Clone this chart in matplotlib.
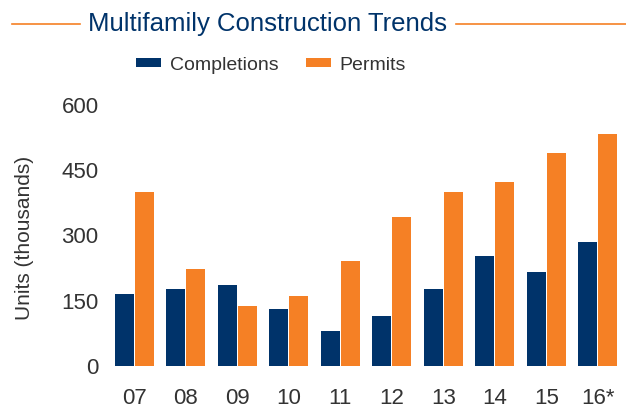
import matplotlib
matplotlib.use("Agg")
import matplotlib.pyplot as plt
from matplotlib.lines import Line2D
import numpy as np

plt.rcParams['font.family'] = ['Liberation Sans', 'DejaVu Sans']

years = ["07", "08", "09", "10", "11", "12", "13", "14", "15", "16*"]
completions = [165, 178, 187, 130, 80, 114, 178, 254, 215, 286]
permits = [400, 222, 137, 160, 242, 343, 400, 423, 489, 533]
yticks = [0, 150, 300, 450, 600]

navy = "#00336a"
orange = "#f58025"
text_col = "#333333"

fig = plt.figure(figsize=(6.26, 4.09), dpi=100)
ax = fig.add_axes([114/626, (409-366)/409, (618-114)/626, (366-105)/409])

x = np.arange(len(years))
w = 0.37
b1 = ax.bar(x - w/2 - 0.01, completions, width=w, color=navy, label="Completions")
b2 = ax.bar(x + w/2 + 0.01, permits, width=w, color=orange, label="Permits")

ax.set_xlim(-0.39, len(years) - 1 + 0.39)
ax.set_ylim(0, 600)
ax.set_yticks(yticks)
ax.set_yticklabels([str(v) for v in yticks])
ax.set_xticks(x)
ax.set_xticklabels(years)
for s in ax.spines.values():
    s.set_visible(False)
ax.tick_params(axis='y', length=0, pad=11, labelsize=16, labelcolor=text_col)
ax.tick_params(axis='x', length=0, pad=16, labelsize=16, labelcolor=text_col)

fig.text(24.5/626, 1 - 238/409, "Units (thousands)", rotation=90, ha='center', va='center',
         fontsize=15, color=text_col)

fig.text(267/626, 1 - 24/409, "Multifamily Construction Trends", ha='center', va='center',
         fontsize=18.5, color=navy)
fig.add_artist(Line2D([12/626, 80/626], [1 - 24/409, 1 - 24/409], color=orange, lw=1.2))
fig.add_artist(Line2D([456/626, 1.0], [1 - 24/409, 1 - 24/409], color=orange, lw=1.2))

fig.legend(handles=[b1, b2], labels=["Completions", "Permits"], loc='center',
           bbox_to_anchor=(271/626, 1 - 65/409), ncol=2, frameon=False,
           fontsize=14, handlelength=1.3, handleheight=0.4, handletextpad=0.45,
           columnspacing=1.4, borderpad=0, labelcolor=text_col)

fig.savefig("out.png", dpi=100)
